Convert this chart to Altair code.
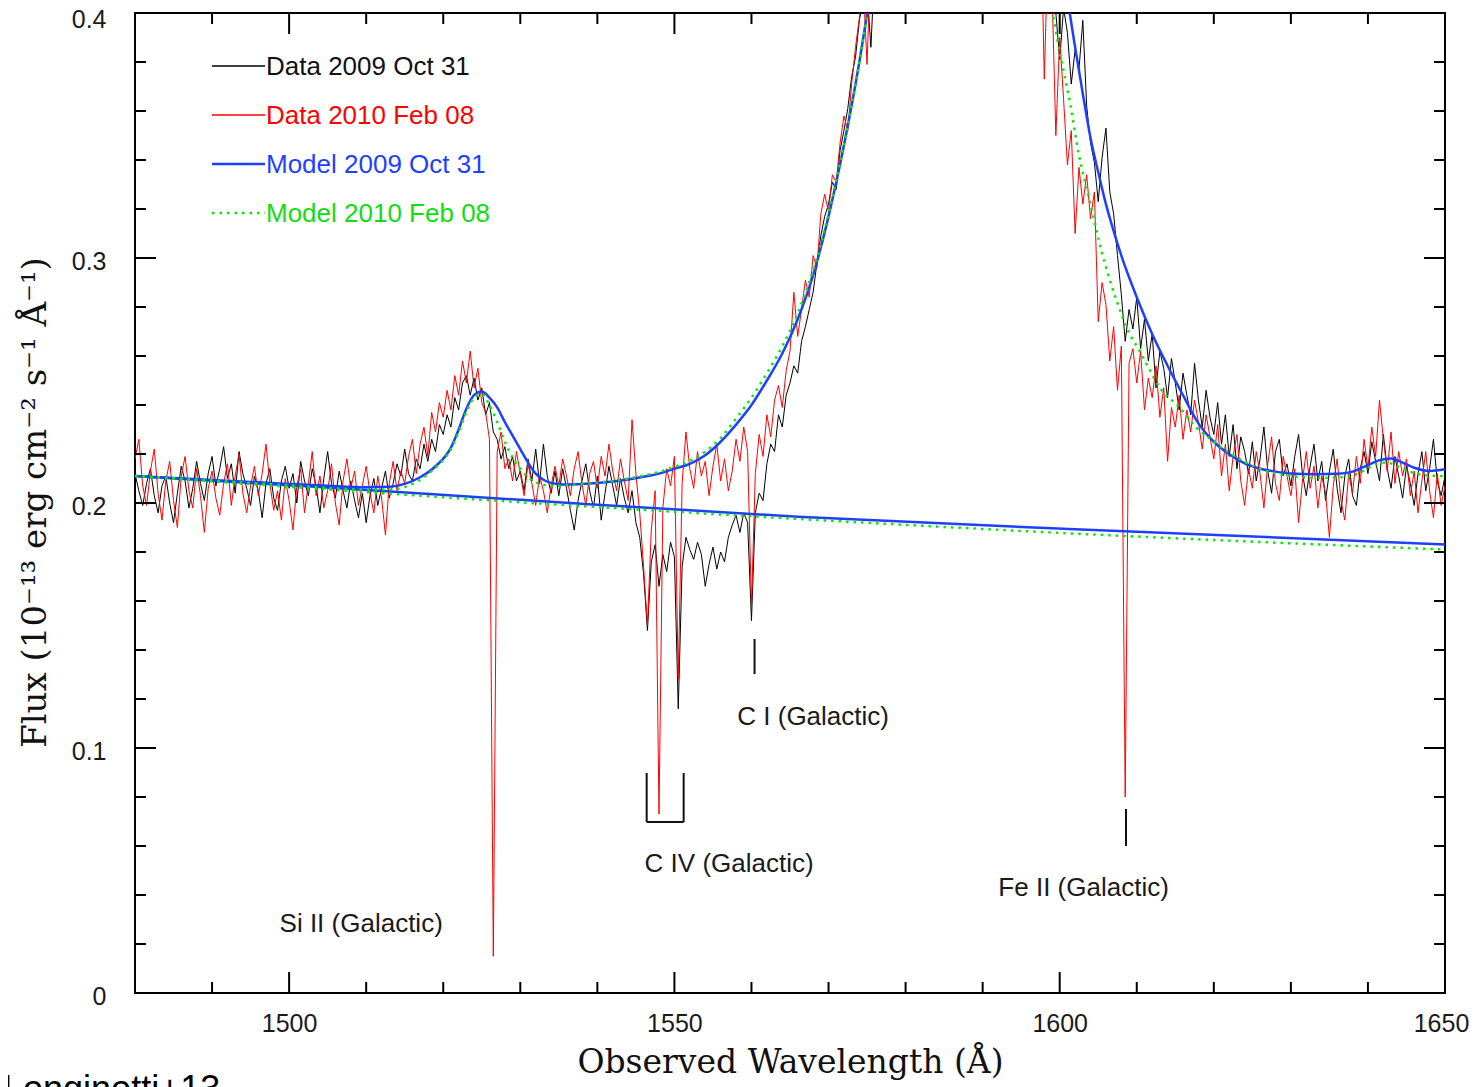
import altair as alt
import numpy as np
import pandas as pd

# ---------------- data ----------------
# wavelength grids (0.5 A sampling); the emission-line core between them is off the top of the plot
wl_left = np.round(np.arange(1480.0, 1577.01, 0.5), 1)
wl_right = np.round(np.arange(1597.5, 1650.01, 0.5), 1)

# Data 2009 Oct 31 (black)
black_left = [
    0.212, 0.205, 0.199, 0.208, 0.214, 0.203, 0.196, 0.207, 0.211, 0.200,
    0.192, 0.204, 0.215, 0.209, 0.198, 0.206, 0.217, 0.208, 0.201, 0.212,
    0.219, 0.207, 0.214, 0.223, 0.210, 0.216, 0.204, 0.221, 0.212, 0.206,
    0.199, 0.211, 0.205, 0.194, 0.208, 0.214, 0.202, 0.197, 0.209, 0.215,
    0.206, 0.212, 0.200, 0.217, 0.209, 0.203, 0.214, 0.207, 0.196, 0.210,
    0.221, 0.208, 0.202, 0.213, 0.205, 0.198, 0.209, 0.201, 0.194, 0.204,
    0.192, 0.203, 0.210, 0.199, 0.206, 0.213, 0.202, 0.208, 0.216, 0.211,
    0.222, 0.212, 0.209, 0.218, 0.214, 0.224, 0.217, 0.226, 0.221, 0.232,
    0.228, 0.236, 0.231, 0.243, 0.238, 0.249, 0.252, 0.244, 0.251, 0.242,
    0.247, 0.236, 0.241, 0.229, 0.226, 0.218, 0.223, 0.214, 0.219, 0.209,
    0.213, 0.205, 0.218, 0.209, 0.222, 0.208, 0.224, 0.211, 0.204, 0.213,
    0.203, 0.214, 0.206, 0.197, 0.189, 0.201, 0.209, 0.216, 0.205, 0.198,
    0.211, 0.193, 0.204, 0.215, 0.207, 0.199, 0.210, 0.202, 0.196, 0.205,
    0.192, 0.186, 0.171, 0.148, 0.176, 0.183, 0.166, 0.179, 0.172, 0.184,
    0.178, 0.116, 0.174, 0.186, 0.181, 0.177, 0.184, 0.179, 0.166, 0.175,
    0.182, 0.173, 0.180, 0.176, 0.186, 0.191, 0.195, 0.188, 0.196, 0.192,
    0.152, 0.196, 0.204, 0.201, 0.216, 0.224, 0.221, 0.236, 0.231, 0.244,
    0.249, 0.256, 0.253, 0.266, 0.272, 0.279, 0.286, 0.298, 0.309, 0.317,
    0.322, 0.331, 0.328, 0.344, 0.352, 0.361, 0.374, 0.382, 0.397, 0.405,
    0.409, 0.386, 0.420, 0.440, 0.460,
]
black_right = [
    0.470, 0.450, 0.430, 0.415, 0.400,
    0.381, 0.402, 0.392, 0.371, 0.385, 0.377, 0.397, 0.362, 0.347, 0.339,
    0.323, 0.341, 0.353, 0.327, 0.318, 0.301, 0.285, 0.266, 0.279, 0.271,
    0.284, 0.263, 0.275, 0.258, 0.269, 0.247, 0.262, 0.255, 0.243, 0.259,
    0.249, 0.238, 0.253, 0.244, 0.236, 0.257, 0.242, 0.231, 0.246, 0.235,
    0.228, 0.241, 0.224, 0.236, 0.219, 0.232, 0.214, 0.227, 0.221, 0.212,
    0.225, 0.209, 0.218, 0.231, 0.213, 0.204, 0.221, 0.226, 0.211, 0.216,
    0.207, 0.219, 0.228, 0.212, 0.203, 0.215, 0.224, 0.209, 0.217, 0.201,
    0.213, 0.222, 0.206, 0.196, 0.211, 0.218, 0.203, 0.199, 0.214, 0.221,
    0.212, 0.225, 0.217, 0.209, 0.228, 0.214, 0.206, 0.219, 0.211, 0.202,
    0.215, 0.208, 0.199, 0.212, 0.221, 0.205, 0.214, 0.226, 0.209, 0.203,
    0.211,
]

# Data 2010 Feb 08 (red)
red_left = [
    0.218, 0.226, 0.207, 0.199, 0.213, 0.222, 0.204, 0.193, 0.209, 0.217,
    0.201, 0.190, 0.211, 0.219, 0.205, 0.198, 0.214, 0.203, 0.188, 0.206,
    0.213, 0.202, 0.195, 0.208, 0.216, 0.199, 0.211, 0.220, 0.204, 0.196,
    0.207, 0.215, 0.203, 0.212, 0.224, 0.208, 0.197, 0.205, 0.193, 0.210,
    0.201, 0.189, 0.207, 0.214, 0.196, 0.208, 0.221, 0.203, 0.211, 0.198,
    0.205, 0.216, 0.200, 0.191, 0.209, 0.218, 0.206, 0.213, 0.199, 0.207,
    0.215, 0.204, 0.196, 0.211, 0.202, 0.187, 0.208, 0.217, 0.205, 0.213,
    0.208, 0.219, 0.226, 0.212, 0.224, 0.231, 0.219, 0.237, 0.229, 0.241,
    0.235, 0.246, 0.238, 0.252, 0.244, 0.258, 0.249, 0.262, 0.247, 0.255,
    0.241, 0.237, 0.226, 0.015, 0.221, 0.229, 0.214, 0.218, 0.209, 0.221,
    0.212, 0.203, 0.216, 0.208, 0.199, 0.211, 0.205, 0.196, 0.207, 0.215,
    0.207, 0.218, 0.211, 0.203, 0.214, 0.221, 0.208, 0.199, 0.212, 0.217,
    0.206, 0.219, 0.211, 0.224, 0.213, 0.205, 0.218, 0.209, 0.201, 0.234,
    0.212, 0.196, 0.174, 0.150, 0.189, 0.205, 0.073, 0.198, 0.214, 0.207,
    0.219, 0.128, 0.208, 0.229, 0.214, 0.206, 0.221, 0.211, 0.217, 0.203,
    0.215, 0.224, 0.209, 0.218, 0.205, 0.213, 0.226, 0.217, 0.231, 0.221,
    0.158, 0.212, 0.228, 0.219, 0.236, 0.227, 0.242, 0.248, 0.239, 0.254,
    0.262, 0.286, 0.268, 0.279, 0.291, 0.284, 0.301, 0.296, 0.318, 0.326,
    0.319, 0.334, 0.331, 0.347, 0.358, 0.352, 0.371, 0.386, 0.398, 0.412,
    0.379, 0.425, 0.440, 0.455, 0.470,
]
red_right = [
    0.450, 0.373, 0.430, 0.410, 0.350,
    0.390, 0.365, 0.338, 0.352, 0.310, 0.337, 0.322, 0.334, 0.316, 0.327,
    0.274, 0.290, 0.281, 0.258, 0.272, 0.246, 0.264, 0.080, 0.257, 0.263,
    0.249, 0.262, 0.238, 0.251, 0.243, 0.256, 0.235, 0.247, 0.217, 0.239,
    0.231, 0.244, 0.226, 0.238, 0.229, 0.242, 0.233, 0.222, 0.236, 0.227,
    0.218, 0.232, 0.211, 0.224, 0.205, 0.219, 0.228, 0.209, 0.199, 0.214,
    0.206, 0.221, 0.212, 0.198, 0.216, 0.227, 0.208, 0.201, 0.219, 0.211,
    0.203, 0.214, 0.192, 0.209, 0.221, 0.206, 0.215, 0.198, 0.211, 0.204,
    0.186, 0.207, 0.218, 0.201, 0.193, 0.212, 0.204, 0.219, 0.208, 0.226,
    0.214, 0.231, 0.219, 0.242, 0.226, 0.213, 0.229, 0.208, 0.221, 0.211,
    0.218, 0.203, 0.213, 0.196, 0.209, 0.221, 0.205, 0.194, 0.212, 0.199,
    0.207,
]

# Model 2009 Oct 31 (blue)
blue_wl = [1480, 1490, 1500, 1505, 1510, 1513, 1515, 1517, 1519, 1521, 1522, 1523,
           1524, 1525, 1526, 1527, 1528, 1529, 1530, 1531, 1532, 1533, 1534, 1535,
           1536, 1538, 1540, 1542, 1544, 1546, 1548, 1550, 1552, 1554, 1556, 1558,
           1560, 1562, 1564, 1566, 1568, 1570, 1572, 1574, 1575, 1576, 1577,
           1600.5, 1601.3, 1602, 1603, 1604, 1605, 1606, 1607, 1608, 1610, 1612,
           1614, 1616, 1618, 1620, 1622, 1624, 1626, 1628, 1630, 1633, 1636, 1638,
           1640, 1641.5, 1643, 1644.5, 1646, 1648, 1650]
blue_fx = [0.2110, 0.2094, 0.2078, 0.2070, 0.2064, 0.2066, 0.2078, 0.2105, 0.2150,
           0.2226, 0.2300, 0.2385, 0.2440, 0.2455, 0.2430, 0.2390, 0.2330, 0.2275,
           0.2220, 0.2165, 0.2120, 0.2095, 0.2082, 0.2077, 0.2076, 0.2078, 0.2082,
           0.2088, 0.2096, 0.2107, 0.2120, 0.2140, 0.2160, 0.2195, 0.2250, 0.2320,
           0.2400, 0.2500, 0.2610, 0.2750, 0.2930, 0.3170, 0.3460, 0.3800, 0.3995,
           0.4200, 0.4450,
           0.418, 0.400, 0.386, 0.367, 0.349, 0.335, 0.322, 0.311, 0.301, 0.284,
           0.269, 0.256, 0.244, 0.2325, 0.2250, 0.2199, 0.2162, 0.2140, 0.2128,
           0.2120, 0.2117, 0.2119, 0.2128, 0.2155, 0.2175, 0.2182, 0.2165, 0.2144,
           0.2131, 0.2138]

# Model 2010 Feb 08 (green)
green_wl = [1480, 1490, 1500, 1510, 1513, 1515, 1517, 1519, 1521, 1522, 1523, 1524,
            1525, 1526, 1527, 1528, 1529, 1530, 1531, 1532, 1533, 1534, 1536, 1538,
            1540, 1542, 1544, 1546, 1548, 1550, 1552, 1554, 1556, 1558, 1560, 1562,
            1564, 1566, 1568, 1570, 1572, 1574, 1575, 1576, 1577,
            1597.5, 1599.1, 1600, 1601.3, 1602.5, 1603.9, 1605.5, 1607.4, 1609,
            1610.4, 1611.3, 1613, 1615.6, 1617.5, 1619.9, 1622, 1624.2, 1626.4,
            1628.6, 1631, 1633, 1637.2, 1639, 1640.5, 1642.4, 1644, 1645.9, 1648, 1650]
green_fx = [0.2110, 0.2092, 0.2072, 0.2055, 0.2055, 0.2065, 0.2095, 0.2145, 0.2220,
            0.2290, 0.2370, 0.2430, 0.2445, 0.2400, 0.2330, 0.2250, 0.2185, 0.2140,
            0.2105, 0.2085, 0.2074, 0.2070, 0.2072, 0.2077, 0.2083, 0.2090, 0.2100,
            0.2112, 0.2127, 0.2147, 0.2172, 0.2210, 0.2265, 0.2345, 0.2430, 0.2530,
            0.2640, 0.2775, 0.2950, 0.3180, 0.3465, 0.3800, 0.3995, 0.4200, 0.4450,
            0.425, 0.3995, 0.384, 0.364, 0.342, 0.3233, 0.302, 0.2824, 0.2695, 0.262,
            0.2566, 0.247, 0.2389, 0.2315, 0.2253, 0.2205, 0.2165, 0.2135, 0.2117,
            0.2107, 0.2103, 0.2106, 0.2125, 0.2150, 0.2165, 0.2148, 0.2123, 0.2112,
            0.2110]

# continua
blue_cont_wl = [1480, 1505, 1530, 1566, 1602, 1650]
blue_cont_fx = [0.2110, 0.2063, 0.2013, 0.1944, 0.1893, 0.1831]
green_cont_wl = [1480, 1530, 1566, 1602, 1650]
green_cont_fx = [0.2110, 0.2003, 0.1935, 0.1875, 0.1810]

# annotations
ann_labels = ["Si II (Galactic)", "C IV (Galactic)", "C I (Galactic)", "Fe II (Galactic)"]
ann_wl = [1509.35, 1557.1, 1568.0, 1603.1]
ann_fx = [0.0282, 0.0527, 0.1127, 0.0429]
seg_x0 = [1560.4, 1608.6, 1546.4, 1551.2, 1546.4]
seg_y0 = [0.1445, 0.0751, 0.0898, 0.0898, 0.0698]
seg_x1 = [1560.4, 1608.6, 1546.4, 1551.2, 1551.2]
seg_y1 = [0.1302, 0.0600, 0.0698, 0.0698, 0.0698]

legend_labels = ["Data 2009 Oct 31", "Data 2010 Feb 08", "Model 2009 Oct 31", "Model 2010 Feb 08"]

x_major = [1500, 1550, 1600, 1650]
x_minor = [1490, 1510, 1520, 1530, 1540, 1560, 1570, 1580, 1590, 1610, 1620, 1630, 1640]
y_major = [0.1, 0.2, 0.3]
y_minor = [0.02, 0.04, 0.06, 0.08, 0.12, 0.14, 0.16, 0.18, 0.22, 0.24, 0.26, 0.28,
           0.32, 0.34, 0.36, 0.38]

# ---------------- styling ----------------
W, H = 1310, 980
BLACK = "#000000"
RED = "#ff0000"
BLUE = "#1f3fff"
GREEN = "#00ee00"
SANS = "Liberation Sans"
SERIF = "DejaVu Serif"

x_scale = alt.Scale(domain=[1480, 1650], nice=False, zero=False)
y_scale = alt.Scale(domain=[0, 0.4], nice=False, zero=False)

x_axis = alt.Axis(values=x_major, ticks=False, domain=False, grid=False,
                  labelFont=SANS, labelFontSize=25, labelColor="#1a1a1a",
                  labelPadding=18, labelOverlap=False, labelFlush=False, format="d",
                  labelOffset=alt.ExprRef("datum.value == 1650 ? -4 : 0"),
                  title="Observed Wavelength (Å)", titleFont=SERIF, titleFontSize=33,
                  titleFontWeight="normal", titleColor="#111111", titleX=655, titleY=69,
                  titleBaseline="middle", titleAlign="center")
y_axis = alt.Axis(values=[0, 0.1, 0.2, 0.3, 0.4], ticks=False, domain=False, grid=False,
                  labelExpr="datum.value == 0 ? '0' : format(datum.value, '.1f')",
                  labelFont=SANS, labelFontSize=25, labelColor="#1a1a1a",
                  labelPadding=29, labelOverlap=False, labelFlush=False,
                  labelOffset=alt.ExprRef("datum.value >= 0.4 ? 6 : 3"),
                  title="Flux (10⁻¹³ erg cm⁻² s⁻¹ Å⁻¹)", titleFont=SERIF,
                  titleFontSize=34, titleFontWeight="normal", titleColor="#111111",
                  titleAngle=270, titleX=-100, titleY=489, titleBaseline="middle",
                  titleAlign="center")


def X(f):
    return alt.X(f"{f}:Q", scale=x_scale, axis=x_axis)


def Y(f):
    return alt.Y(f"{f}:Q", scale=y_scale, axis=y_axis)


def series(wl, fx):
    return pd.DataFrame({"wl": list(wl), "flux": list(fx)})


black_df = series(list(wl_left) + list(wl_right), black_left + black_right)
red_df = series(list(wl_left) + list(wl_right), red_left + red_right)

layers = []
layers.append(alt.Chart(black_df).mark_line(clip=True, color=BLACK, strokeWidth=1)
              .encode(x=X("wl"), y=Y("flux")))
layers.append(alt.Chart(red_df).mark_line(clip=True, color=RED, strokeWidth=1)
              .encode(x=X("wl"), y=Y("flux")))
layers.append(alt.Chart(series(blue_cont_wl, blue_cont_fx))
              .mark_line(clip=True, color=BLUE, strokeWidth=2.5, interpolate="monotone")
              .encode(x=X("wl"), y=Y("flux")))
layers.append(alt.Chart(series(blue_wl, blue_fx))
              .mark_line(clip=True, color=BLUE, strokeWidth=2.5, interpolate="monotone")
              .encode(x=X("wl"), y=Y("flux")))
layers.append(alt.Chart(series(green_cont_wl, green_cont_fx))
              .mark_line(clip=True, color=GREEN, strokeWidth=2.5, strokeDash=[2.5, 5],
                         interpolate="monotone")
              .encode(x=X("wl"), y=Y("flux")))
layers.append(alt.Chart(series(green_wl, green_fx))
              .mark_line(clip=True, color=GREEN, strokeWidth=2.5, strokeDash=[2.5, 5],
                         interpolate="monotone")
              .encode(x=X("wl"), y=Y("flux")))

# inward ticks on all four sides
xmaj = pd.DataFrame({"v": x_major})
xmin = pd.DataFrame({"v": x_minor})
ymaj = pd.DataFrame({"v": y_major})
ymin = pd.DataFrame({"v": y_minor})
for df, ln in [(xmaj, 21), (xmin, 11)]:
    layers.append(alt.Chart(df).mark_rule(color=BLACK, strokeWidth=2)
                  .encode(x=X("v"), y=alt.value(H), y2=alt.value(H - ln)))
    layers.append(alt.Chart(df).mark_rule(color=BLACK, strokeWidth=2)
                  .encode(x=X("v"), y=alt.value(0), y2=alt.value(ln)))
for df, ln in [(ymaj, 21), (ymin, 11)]:
    layers.append(alt.Chart(df).mark_rule(color=BLACK, strokeWidth=2)
                  .encode(y=Y("v"), x=alt.value(0), x2=alt.value(ln)))
    layers.append(alt.Chart(df).mark_rule(color=BLACK, strokeWidth=2)
                  .encode(y=Y("v"), x=alt.value(W), x2=alt.value(W - ln)))

# line identifications
seg_df = pd.DataFrame({"x0": seg_x0, "y0": seg_y0, "x1": seg_x1, "y1": seg_y1})
layers.append(alt.Chart(seg_df).mark_rule(color="#111111", strokeWidth=2)
              .encode(x=X("x0"), y=Y("y0"), x2="x1:Q", y2="y1:Q"))
ann_df = pd.DataFrame({"label": ann_labels, "wl": ann_wl, "flux": ann_fx})
layers.append(alt.Chart(ann_df).mark_text(font=SANS, fontSize=26, color="#1a1a1a",
                                          align="center", baseline="middle")
              .encode(x=X("wl"), y=Y("flux"), text="label:N"))

# legend (manual, top-left inside the frame)
leg_colors = [BLACK, RED, BLUE, GREEN]
leg_text_colors = ["#111111", RED, BLUE, "#11dd11"]
leg_y = [53, 102, 151, 200]
for i, lab in enumerate(legend_labels):
    ldf = pd.DataFrame({"label": [lab]})
    if i == 3:
        rule = alt.Chart(ldf).mark_rule(color=leg_colors[i], strokeWidth=2.5,
                                        strokeDash=[2.5, 5])
    else:
        rule = alt.Chart(ldf).mark_rule(color=leg_colors[i],
                                        strokeWidth=2.5 if i == 2 else 1.6)
    layers.append(rule.encode(x=alt.value(77), x2=alt.value(130),
                              y=alt.value(leg_y[i])))
    layers.append(alt.Chart(ldf).mark_text(font=SANS, fontSize=26, color=leg_text_colors[i],
                                           align="left", baseline="middle")
                  .encode(x=alt.value(131), y=alt.value(leg_y[i] + 1), text="label:N"))

# credit at bottom-left (cut by the page edge in the reference)
credit = pd.DataFrame({"t": ["Longinotti+13"]})
layers.append(alt.Chart(credit).mark_text(font=SANS, fontSize=36, color=BLACK,
                                          align="left", baseline="alphabetic")
              .encode(x=alt.value(-132), y=alt.value(1088), text="t:N"))

chart = alt.layer(*layers).properties(
    width=W, height=H,
    autosize=alt.AutoSizeParams(type="none"),
    padding={"left": 127, "top": 5, "right": 26, "bottom": 102},
    background="white",
).configure_view(stroke="black", strokeWidth=2)

chart.save("out.html", embed_options={"renderer": "svg", "actions": False})
